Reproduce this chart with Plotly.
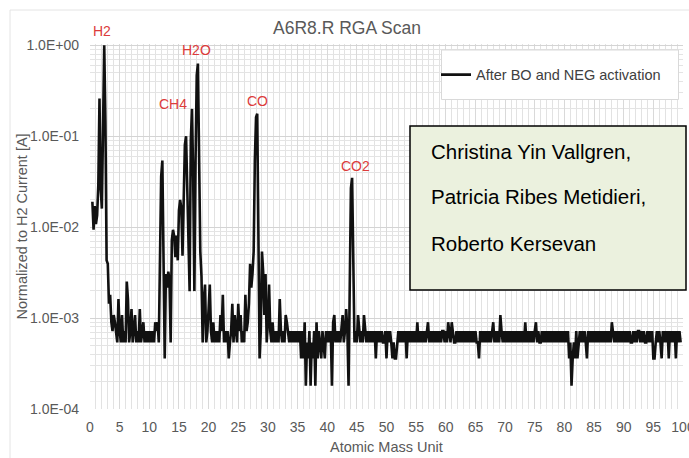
import numpy as np
import plotly.graph_objects as go

# RGA scan sampled every 0.2 amu from 0.4 amu; raw electrometer counts,
# normalised to the H2 (mass 2) peak before plotting.
scan_start_amu = 0.4
scan_step_amu = 0.2

counts_0_to_20 = [
    106, 52, 95, 60, 75, 160, 1444, 150, 89, 1700, 5556, 800, 24, 22, 8, 10, 5, 4, 6, 5, 4, 3, 9, 4, 3,      # 0.4 - 5.2
    6, 3, 4, 3, 14, 9, 3, 4, 7, 3, 4, 6, 3, 4, 3, 7, 3, 4, 5, 3, 4, 3, 4, 3, 4,                              # 5.4 - 10.2
    3, 4, 3, 5, 4, 5, 3, 30, 200, 300, 30, 2, 17, 12, 18, 15, 3, 40, 52, 44, 26, 45, 24, 85, 111,            # 10.4 - 15.2
    90, 27, 110, 450, 556, 120, 30, 11, 500, 1111, 200, 11, 300, 2600, 3500, 400, 30, 16, 3, 9, 13, 3, 4, 7, 13,  # 15.4 - 20.2
]
counts_20_to_50 = [
    4, 3, 5, 3, 4, 3, 4, 3, 6, 4, 10, 3, 4, 3, 4, 2, 3, 4, 8, 3, 6, 4, 3, 8, 4,                              # 20.4 - 25.2
    6, 3, 4, 3, 10, 4, 5, 8, 22, 12, 17, 30, 300, 900, 983, 50, 2, 4, 30, 18, 6, 17, 3, 5, 13,               # 25.4 - 30.2
    4, 3, 5, 3, 4, 3, 4, 3, 9, 4, 3, 4, 3, 6, 5, 4, 3, 4, 3, 4, 3, 4, 3, 4, 3,                               # 30.4 - 35.2
    4, 2, 4, 2, 5, 1, 3, 2, 4, 1, 3, 2, 4, 1, 5, 2, 4, 3, 2, 4, 3, 2, 4, 3, 4,                               # 35.4 - 40.2
    3, 4, 1, 5, 6, 3, 4, 3, 4, 3, 4, 6, 3, 4, 7, 4, 1, 9, 150, 194, 30, 3, 4, 3, 6,                          # 40.4 - 45.2
    4, 3, 4, 3, 6, 4, 3, 4, 3, 4, 3, 4, 3, 4, 2, 4, 3, 4, 3, 4, 3, 3, 4, 2, 4,                               # 45.4 - 50.2
]
counts_50_to_75 = [
    3, 4, 3, 2, 3, 2, 2, 3, 4, 3, 4, 3, 4, 3, 4, 2, 4, 3, 4, 3, 4, 3, 4, 3, 5,                               # 50.4 - 55.2
    3, 4, 3, 4, 3, 4, 3, 4, 5, 3, 4, 3, 4, 3, 4, 3, 4, 3, 4, 3, 4, 4, 3, 4, 3,                               # 55.4 - 60.2
    5, 4, 3, 5, 4, 3, 3, 4, 3, 4, 3, 4, 3, 4, 3, 4, 3, 4, 3, 4, 3, 4, 3, 4, 3,                               # 60.4 - 65.2
    3, 2, 4, 3, 4, 3, 4, 3, 4, 3, 4, 3, 4, 5, 3, 4, 3, 4, 3, 6, 4, 3, 4, 3, 4,                               # 65.4 - 70.2
    3, 4, 3, 4, 3, 4, 3, 4, 3, 4, 3, 4, 3, 4, 3, 5, 3, 4, 3, 4, 3, 4, 3, 4, 5,                               # 70.4 - 75.2
]
counts_75_to_100 = [
    3, 4, 3, 3, 4, 3, 4, 3, 4, 3, 4, 3, 4, 3, 4, 3, 4, 3, 4, 3, 4, 3, 4, 3, 4,                               # 75.4 - 80.2
    3, 4, 2, 3, 1, 2, 3, 2, 4, 2, 3, 4, 3, 4, 3, 4, 3, 2, 4, 3, 4, 3, 4, 3, 4,                               # 80.4 - 85.2
    3, 4, 3, 4, 3, 4, 3, 4, 3, 4, 3, 4, 3, 5, 4, 3, 4, 3, 4, 3, 4, 3, 4, 3, 4,                               # 85.4 - 90.2
    3, 4, 3, 4, 3, 3, 4, 3, 4, 3, 4, 4, 3, 4, 3, 4, 3, 3, 4, 3, 4, 3, 4, 2, 2,                               # 90.4 - 95.2
    3, 4, 3, 4, 3, 2, 4, 3, 4, 3, 4, 2, 4, 3, 4, 3, 4, 2, 4, 3, 4, 3,                                        # 95.4 - 99.6
]

x_ticks = list(range(0, 101, 5))
y_decades = [-4, -3, -2, -1, 0]
y_tick_text = ["1.0E-04", "1.0E-03", "1.0E-02", "1.0E-01", "1.0E+00"]

peak_labels = ["H2", "CH4", "H2O", "CO", "CO2"]
peak_amu = [2.4, 16.2, 18.2, 28.2, 44.2]

counts = np.array(counts_0_to_20 + counts_20_to_50 + counts_50_to_75 + counts_75_to_100, dtype=float)
amu = np.round(scan_start_amu + scan_step_amu * np.arange(counts.size), 1)
h2_counts = counts.max()
normalized = counts / h2_counts

# ---- page geometry (pixels) ----
W, H = 689, 458
M_L, M_R, M_T, M_B = 90, 6, 44, 49
PW, PH = W - M_L - M_R, H - M_T - M_B


def px_x(px):
    return (px - M_L) / PW


def px_y(py):
    return (H - M_B - py) / PH


FONT = "Arial, Liberation Sans, sans-serif"
GREY_TXT = "#595959"
RED = "#DC3B3B"

fig = go.Figure()
fig.add_trace(go.Scatter(
    x=amu, y=normalized, mode="lines",
    name="After BO and NEG activation",
    line=dict(color="#111111", width=2.6),
))

# y gridlines: decades (labelled) and the 2..9 sub-decade lines
minor_y = [m * 10.0 ** d for d in y_decades[:-1] for m in range(2, 10)]

fig.update_xaxes(
    range=[0, 100], tickmode="array", tickvals=x_ticks, automargin=False,
    ticks="", showline=False, zeroline=False,
    showgrid=True, gridcolor="#d9d9d9", gridwidth=1,
    minor=dict(dtick=1, showgrid=True, gridcolor="#e2e2e2", gridwidth=1),
    tickfont=dict(family=FONT, size=14, color=GREY_TXT),
    ticklabelstandoff=8, ticklabeloverflow="allow",
)
fig.update_yaxes(
    type="log", range=[-4, 0.015], tickmode="array", automargin=False,
    tickvals=[10.0 ** d for d in y_decades], ticktext=y_tick_text,
    ticks="", showline=False, zeroline=False,
    showgrid=True, gridcolor="#d4d4d4", gridwidth=1,
    minor=dict(tickmode="array", tickvals=minor_y, showgrid=True, gridcolor="#e4e4e4", gridwidth=1),
    tickfont=dict(family=FONT, size=14, color=GREY_TXT),
    ticklabelstandoff=10,
)

annotations = [
    # axis titles
    dict(x=0.5, y=px_y(446.5), xref="paper", yref="paper", text="Atomic Mass Unit",
         showarrow=False, xanchor="center", yanchor="middle",
         font=dict(family=FONT, size=14.5, color=GREY_TXT)),
    dict(x=px_x(21), y=0.5, xref="paper", yref="paper", text="Normalized to H2 Current [A]",
         textangle=-90, showarrow=False, xanchor="center", yanchor="middle",
         font=dict(family=FONT, size=14.5, color=GREY_TXT)),
]

# peak labels, placed relative to the peak they name
label_dx = [-2.5, -13, -1, 0.3, 3.4]
label_dy = [14.3, 32.7, 13.5, 12.8, 11.5]
for text, x_peak, dx, dy in zip(peak_labels, peak_amu, label_dx, label_dy):
    idx = int(np.argmin(np.abs(amu - x_peak)))
    annotations.append(dict(
        x=amu[idx], y=np.log10(normalized[idx]), xref="x", yref="y",
        text=text, showarrow=False, xanchor="center", yanchor="middle",
        xshift=dx, yshift=dy, font=dict(family=FONT, size=14, color=RED),
    ))

# author box
authors = ["Christina Yin Vallgren,", "Patricia Ribes Metidieri,", "Roberto Kersevan"]
for text, py in zip(authors, [151.7, 196.7, 243.0]):
    annotations.append(dict(
        x=px_x(429), y=px_y(py), xref="paper", yref="paper",
        text=text, showarrow=False, xanchor="left", yanchor="middle",
        font=dict(family=FONT, size=20.5, color="#000000"),
    ))

shapes = [
    # chart-area frame
    dict(type="rect", xref="paper", yref="paper", layer="below",
         x0=px_x(10), x1=px_x(700), y0=px_y(10), y1=px_y(480),
         line=dict(color="#e4e4e4", width=1), fillcolor="rgba(0,0,0,0)"),
    # legend frame
    dict(type="rect", xref="paper", yref="paper", layer="above",
         x0=px_x(441.5), x1=px_x(678.5), y0=px_y(50), y1=px_y(99.5),
         line=dict(color="#d9d9d9", width=1), fillcolor="#ffffff"),
    # author box
    dict(type="rect", xref="paper", yref="paper", layer="above",
         x0=px_x(410), x1=px_x(686), y0=px_y(126), y1=px_y(290),
         line=dict(color="#000000", width=1.5), fillcolor="#EBF1DE"),
]

fig.update_layout(
    width=W, height=H,
    margin=dict(l=M_L, r=M_R, t=M_T, b=M_B, autoexpand=False),
    paper_bgcolor="#ffffff", plot_bgcolor="#ffffff",
    font=dict(family=FONT, color=GREY_TXT),
    title=dict(text="A6R8.R RGA Scan", x=347 / W, y=1 - 28 / H, xanchor="center", yanchor="middle",
               xref="container", yref="container",
               font=dict(family=FONT, size=17.5, color=GREY_TXT)),
    showlegend=True,
    legend=dict(x=px_x(436), y=px_y(74.7), xanchor="left", yanchor="middle",
                bgcolor="rgba(0,0,0,0)", borderwidth=0,
                font=dict(family=FONT, size=14.5, color="#404040")),
    annotations=annotations,
    shapes=shapes,
)

fig.write_html("out.html")
